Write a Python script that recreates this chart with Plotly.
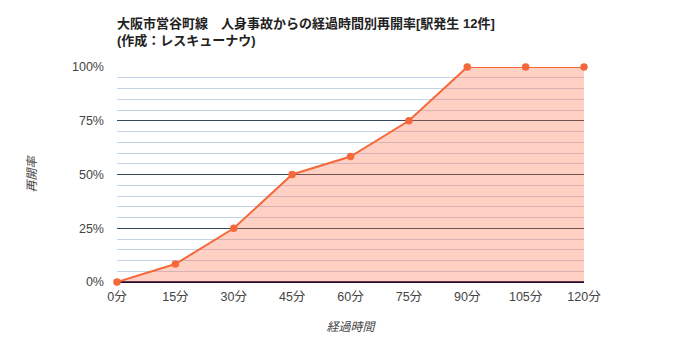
import plotly.graph_objects as go

minutes = [0, 15, 30, 45, 60, 75, 90, 105, 120]
rates = [0.0, 1/12, 0.25, 0.5, 7/12, 0.75, 1.0, 1.0, 1.0]
x_labels = ["0分", "15分", "30分", "45分", "60分", "75分", "90分", "105分", "120分"]
y_ticks = [0, 0.25, 0.5, 0.75, 1.0]
y_labels = ["0%", "25%", "50%", "75%", "100%"]

FONT = "Arial, 'Liberation Sans', 'Noto Sans CJK JP', sans-serif"

fig = go.Figure()
fig.add_trace(go.Scatter(
    x=minutes, y=rates, mode="lines+markers",
    line=dict(color="#f4683a", width=2),
    marker=dict(color="#f4683a", size=7.5),
    fill="tozeroy", fillcolor="rgba(255,110,70,0.32)",
    hoverinfo="skip", showlegend=False, cliponaxis=False,
))

fig.update_layout(
    width=700, height=350,
    margin=dict(l=117, r=116, t=67, b=68),
    paper_bgcolor="white", plot_bgcolor="white",
    font=dict(family=FONT, size=12, color="#444444"),
    title=dict(
        text="<b>大阪市営谷町線　人身事故からの経過時間別再開率[駅発生 12件]<br>(作成：レスキューナウ)</b>",
        x=117/700, xanchor="left", xref="container",
        y=1-28/350, yanchor="middle", yref="container",
        font=dict(family=FONT, size=13, color="#222222"),
    ),
    xaxis=dict(
        range=[0, 120], tickvals=minutes, ticktext=x_labels,
        showgrid=False, zeroline=False, showline=False,
        ticks="", ticklabelstandoff=5, tickfont=dict(size=12.5, color="#444444"),
        title=dict(text="<i>経過時間</i>", standoff=20, font=dict(size=12, color="#444444")),
        fixedrange=True,
    ),
    yaxis=dict(
        range=[0, 1], tickvals=y_ticks, ticktext=y_labels,
        showgrid=True, gridcolor="#34495e", gridwidth=1,
        zeroline=True, zerolinecolor="#1e0f3c", zerolinewidth=1.5,
        showline=False, ticks="", ticklabelstandoff=12,
        minor=dict(dtick=0.05, tick0=0, showgrid=True, gridcolor="#c4d2e8", gridwidth=1),
        tickfont=dict(size=12.5, color="#444444"),
        title=dict(text="<i>再開率</i>", standoff=32, font=dict(size=12, color="#444444")),
        fixedrange=True,
    ),
)

fig.write_html("out.html")
